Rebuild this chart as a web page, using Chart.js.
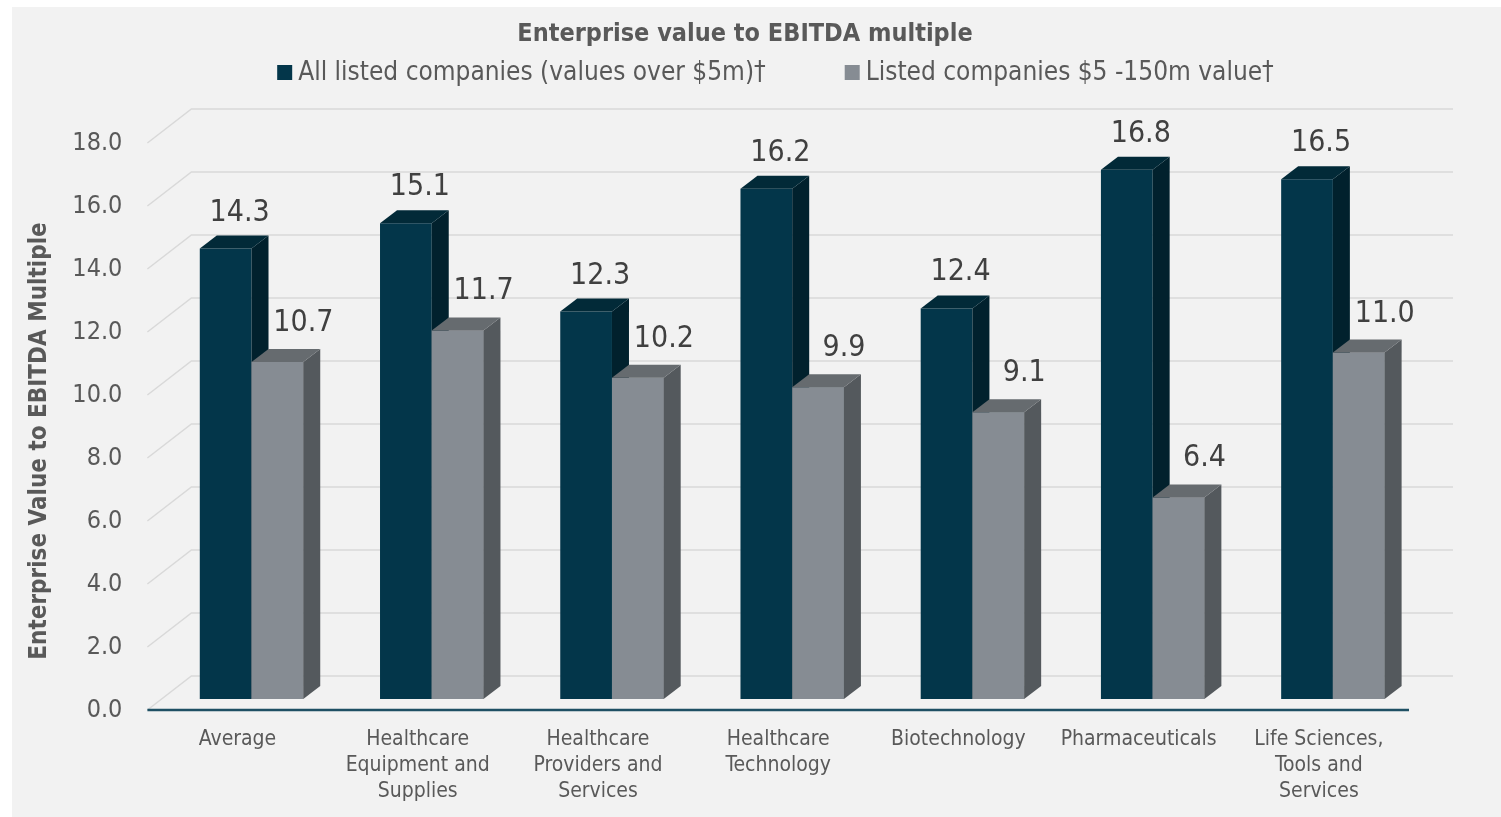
<!DOCTYPE html>
<html>
<head>
<meta charset="utf-8">
<script src="https://cdn.jsdelivr.net/npm/chart.js@4.4.1/dist/chart.umd.min.js"></script>
<style>
    html, body { margin: 0; padding: 0; background: #fff; overflow: hidden; }
    #wrap { width: 1501px; height: 817px; }
</style>
</head>
<body>
<div id="wrap"><canvas id="chart" width="1501" height="817"></canvas></div>
<script>
// ---- data ----
const categories = [
    'Average',
    ['Healthcare', 'Equipment and', 'Supplies'],
    ['Healthcare', 'Providers and', 'Services'],
    ['Healthcare', 'Technology'],
    'Biotechnology',
    'Pharmaceuticals',
    ['Life Sciences,', 'Tools and', 'Services']
];
const allListed = [14.3, 15.1, 12.3, 16.2, 12.4, 16.8, 16.5];
const smallListed = [10.7, 11.7, 10.2, 9.9, 9.1, 6.4, 11.0];
const seriesNames = ['All listed companies (values over $5m)\u2020', 'Listed companies $5 -150m value\u2020'];
const yMin = 0;
const yMax = 18;
const yStep = 2;
const chartTitle = 'Enterprise value to EBITDA multiple';
const yTitle = 'Enterprise Value to EBITDA Multiple';

// ---- look ----
const FONT = '"DejaVu Sans Condensed", "DejaVu Sans", sans-serif';
const TEXT = '#595959';
const DX = 17, DY = 13;               // bar depth
const FRONT = { dx: -14, dy: 11 };    // front edge of floor vs bar plane
const BACK = { dx: 30, dy: -23 };     // back wall vs bar plane

function poly(ctx, pts) {
    ctx.beginPath();
    ctx.moveTo(pts[0][0], pts[0][1]);
    for (let i = 1; i < pts.length; i++) ctx.lineTo(pts[i][0], pts[i][1]);
    ctx.closePath();
    ctx.fill();
}

// grey panel behind everything
const panelBg = {
    id: 'panelBg',
    beforeDraw(chart) {
        const ctx = chart.ctx;
        ctx.save();
        ctx.fillStyle = '#ffffff';
        ctx.fillRect(0, 0, chart.width, chart.height);
        ctx.fillStyle = '#f2f2f2';
        ctx.fillRect(12, 7, chart.width - 12, chart.height - 7);
        ctx.restore();
    }
};

// wall + floor gridlines in fake perspective
const floorGrid = {
    id: 'floorGrid',
    beforeDatasetsDraw(chart) {
        const { ctx, chartArea: a, scales: { y } } = chart;
        ctx.save();
        ctx.strokeStyle = '#d9d9d9';
        ctx.lineWidth = 1.5;
        y.ticks.forEach(t => {
            const py = y.getPixelForValue(t.value);
            ctx.beginPath();
            ctx.moveTo(a.left + FRONT.dx, py + FRONT.dy);
            ctx.lineTo(a.left + BACK.dx, py + BACK.dy);
            ctx.lineTo(a.right + BACK.dx, py + BACK.dy);
            ctx.stroke();
        });
        const p0 = y.getPixelForValue(0);
        ctx.strokeStyle = '#1f5064';
        ctx.lineWidth = 2.5;
        ctx.beginPath();
        ctx.moveTo(a.left + FRONT.dx, p0 + FRONT.dy);
        ctx.lineTo(a.right + FRONT.dx, p0 + FRONT.dy);
        ctx.stroke();
        ctx.restore();
    }
};

// side and top faces of every bar
const bars3d = {
    id: 'bars3d',
    afterDatasetsDraw(chart) {
        const ctx = chart.ctx;
        ctx.save();
        categories.forEach((c, i) => {
            chart.data.datasets.forEach((ds, di) => {
                const bar = chart.getDatasetMeta(di).data[i];
                if (di > 0) bar.draw(ctx, chart.chartArea);
                const l = bar.x - bar.width / 2;
                const r = bar.x + bar.width / 2;
                ctx.fillStyle = ds.sideColor;
                poly(ctx, [[r, bar.y], [r + DX, bar.y - DY], [r + DX, bar.base - DY], [r, bar.base]]);
                ctx.fillStyle = ds.topColor;
                poly(ctx, [[l, bar.y], [l + DX, bar.y - DY], [r + DX, bar.y - DY], [r, bar.y]]);
            });
        });
        ctx.restore();
    }
};

// value labels over the bars
const valueLabels = {
    id: 'valueLabels',
    afterDatasetsDraw(chart) {
        const ctx = chart.ctx;
        ctx.save();
        ctx.font = '30px ' + FONT;
        ctx.fillStyle = '#404040';
        ctx.textAlign = 'center';
        ctx.textBaseline = 'alphabetic';
        chart.data.datasets.forEach((ds, di) => {
            chart.getDatasetMeta(di).data.forEach((bar, i) => {
                ctx.fillText(ds.data[i].toFixed(1), bar.x + ds.labelDx, bar.y - DY - ds.labelDy);
            });
        });
        ctx.restore();
    }
};

// title, legend and rotated axis title
const chartText = {
    id: 'chartText',
    afterDraw(chart) {
        const ctx = chart.ctx;
        ctx.save();
        ctx.fillStyle = TEXT;
        ctx.textBaseline = 'middle';

        ctx.font = 'bold 25px ' + FONT;
        ctx.textAlign = 'center';
        ctx.fillText(chartTitle, 745, 34);

        // legend
        ctx.font = '26px ' + FONT;
        ctx.textAlign = 'left';
        const box = 15, boxGap = 6, itemGap = 79;
        const widths = seriesNames.map(s => ctx.measureText(s).width);
        const total = widths.reduce((s, w) => s + w + box + boxGap, 0) + itemGap;
        let x = 775.5 - total / 2;
        chart.data.datasets.forEach((ds, i) => {
            ctx.fillStyle = ds.backgroundColor;
            ctx.fillRect(x, 65, box, box);
            ctx.fillStyle = TEXT;
            ctx.fillText(ds.label, x + box + boxGap, 73);
            x += box + boxGap + widths[i] + itemGap;
        });

        // y axis title
        ctx.font = 'bold 24px ' + FONT;
        ctx.textAlign = 'center';
        ctx.translate(40, 441);
        ctx.rotate(-Math.PI / 2);
        ctx.fillText(yTitle, 0, 0);
        ctx.restore();
    }
};

new Chart(document.getElementById('chart'), {
    type: 'bar',
    data: {
        labels: categories,
        datasets: [{
            label: seriesNames[0],
            data: allListed,
            backgroundColor: '#03364a',
            sideColor: '#01212d',
            topColor: '#022a38',
            labelDx: 14,
            labelDy: 15
        }, {
            label: seriesNames[1],
            data: smallListed,
            backgroundColor: '#868c93',
            sideColor: '#54595d',
            topColor: '#666b6f',
            labelDx: 26,
            labelDy: 18
        }]
    },
    options: {
        responsive: false,
        animation: false,
        devicePixelRatio: 1,
        layout: { padding: { left: 12, right: 78, top: 132, bottom: 0 } },
        datasets: {
            bar: { categoryPercentage: 0.574, barPercentage: 1.0, borderWidth: 0 }
        },
        plugins: {
            legend: { display: false },
            title: { display: false },
            tooltip: { enabled: false }
        },
        scales: {
            x: {
                grid: { display: false, drawTicks: false },
                border: { display: false },
                ticks: {
                    color: TEXT,
                    font: { family: FONT, size: 21, lineHeight: 1.22 },
                    padding: 28,
                    labelOffset: -14,
                    maxRotation: 0,
                    autoSkip: false
                },
                afterFit(scale) { scale.height = 118; }
            },
            y: {
                min: yMin,
                max: yMax,
                grid: { display: false, drawTicks: false },
                border: { display: false },
                ticks: {
                    stepSize: yStep,
                    color: TEXT,
                    font: { family: FONT, size: 25 },
                    padding: 39,
                    labelOffset: 11,
                    callback: v => v.toFixed(1)
                },
                afterFit(scale) { scale.width = 149.4; }
            }
        }
    },
    plugins: [panelBg, floorGrid, bars3d, valueLabels, chartText]
});
</script>
</body>
</html>
